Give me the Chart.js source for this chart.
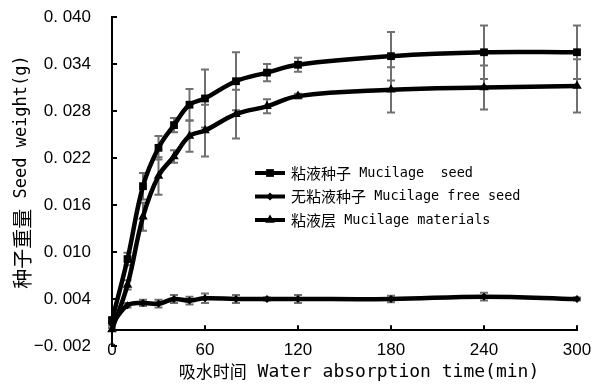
<!DOCTYPE html>
<html><head><meta charset="utf-8">
<script src="https://cdn.jsdelivr.net/npm/chart.js@4/dist/chart.umd.min.js"></script>
<style>html,body{margin:0;padding:0;background:#fff}#wrap{width:593px;height:387px}</style>
</head><body><div id="wrap"><canvas id="c" width="593" height="387"></canvas></div>
<script>
// ---- data ----
const times = [0, 10, 20, 30, 40, 50, 60, 80, 100, 120, 180, 240, 300];
const mucilageSeed = [0.0013, 0.0091, 0.0184, 0.0233, 0.0262, 0.0288, 0.0296, 0.0318, 0.0329, 0.0339, 0.0350, 0.0355, 0.0355];
const mucilageSeedErr = [0.0003, 0.0008, 0.0017, 0.0015, 0.0009, 0.0020, 0.0037, 0.0037, 0.0011, 0.0009, 0.0031, 0.0034, 0.0034];
const mucilageFree = [0.0008, 0.0032, 0.0035, 0.0034, 0.0040, 0.0038, 0.0041, 0.0040, 0.0040, 0.0040, 0.0040, 0.0043, 0.0040];
const mucilageFreeErr = [0.0002, 0.0003, 0.0004, 0.0005, 0.0005, 0.0005, 0.0006, 0.0005, 0.0002, 0.0005, 0.0004, 0.0005, 0.0002];
const mucilageMaterials = [0.0001, 0.0058, 0.0145, 0.0197, 0.0222, 0.0248, 0.0255, 0.0276, 0.0286, 0.0299, 0.0307, 0.0310, 0.0312];
const mucilageMaterialsErr = [0.0002, 0.0006, 0.0018, 0.0024, 0.0008, 0.0020, 0.0033, 0.0031, 0.0009, 0.0003, 0.0029, 0.0028, 0.0034];
const seriesLabels = ['粘液种子 Mucilage  seed', '无粘液种子 Mucilage free seed', '粘液层 Mucilage materials'];
const xTickValues = [0, 60, 120, 180, 240, 300];
const yTickValues = [-0.002, 0.004, 0.010, 0.016, 0.022, 0.028, 0.034, 0.040];
const xTitle = '吸水时间 Water absorption time(min)';
const yTitle = '种子重量 Seed weight(g)';

const errorArrays = [mucilageSeedErr, mucilageFreeErr, mucilageMaterialsErr];
const CJK = /[\u2E80-\u9FFF\uF900-\uFAFF\uFF00-\uFFEF\u3000-\u303F]/;

function runs(text) {
  const out = [];
  for (const ch of text) {
    const c = CJK.test(ch);
    if (out.length && out[out.length - 1].cjk === c) out[out.length - 1].t += ch;
    else out.push({ t: ch, cjk: c });
  }
  return out;
}
function drawMixed(ctx, text, x, y, cjkFont, latFont, align) {
  const rs = runs(text);
  let total = 0;
  rs.forEach(r => { ctx.font = r.cjk ? cjkFont : latFont; r.w = ctx.measureText(r.t).width; total += r.w; });
  let cx = align === 'center' ? x - total / 2 : x;
  ctx.textAlign = 'left';
  ctx.textBaseline = 'middle';
  rs.forEach(r => { ctx.font = r.cjk ? cjkFont : latFont; ctx.fillText(r.t, cx, y); cx += r.w; });
}
function fmtTick(v) {
  const s = Math.abs(v).toFixed(3).replace('.', '. ');
  return (v < 0 ? '\u2212' : '') + s;
}

const overlay = {
  id: 'overlay',
  beforeDatasetsDraw(chart) {
    const ctx = chart.ctx, xs = chart.scales.x, ys = chart.scales.y;
    ctx.save();
    ctx.strokeStyle = '#707070';
    ctx.lineWidth = 2;
    chart.data.datasets.forEach((ds, i) => {
      const errs = errorArrays[i];
      ds.data.forEach((p, j) => {
        const x = xs.getPixelForValue(p.x);
        const t = ys.getPixelForValue(p.y + errs[j]);
        const b = ys.getPixelForValue(p.y - errs[j]);
        ctx.beginPath();
        ctx.moveTo(x, t); ctx.lineTo(x, b);
        ctx.moveTo(x - 4, t); ctx.lineTo(x + 4, t);
        ctx.moveTo(x - 4, b); ctx.lineTo(x + 4, b);
        ctx.stroke();
      });
    });
    ctx.restore();
  },
  afterDraw(chart) {
    const ctx = chart.ctx, xs = chart.scales.x, ys = chart.scales.y;
    const area = chart.chartArea;
    const y0 = ys.getPixelForValue(0);
    ctx.save();
    ctx.strokeStyle = '#000';
    ctx.lineWidth = 2;
    // inner ticks
    ctx.beginPath();
    yTickValues.forEach(v => {
      const py = Math.round(ys.getPixelForValue(v));
      ctx.moveTo(area.left, py); ctx.lineTo(area.left + 5, py);
    });
    xTickValues.forEach(v => {
      if (v === 0) return;
      const px = Math.round(xs.getPixelForValue(v));
      ctx.moveTo(px, y0); ctx.lineTo(px, y0 - 5);
    });
    ctx.stroke();
    ctx.fillStyle = '#000';
    // axis titles
    drawMixed(ctx, xTitle, 359, 372, '17px "Noto Sans CJK SC"', '18px "DejaVu Sans Mono"', 'center');
    ctx.save();
    ctx.translate(22, 172);
    ctx.rotate(-Math.PI / 2);
    drawMixed(ctx, yTitle, 0, 0, '20px "Noto Sans CJK SC"', '17px "DejaVu Sans Mono"', 'center');
    ctx.restore();
    // legend
    chart.data.datasets.forEach((ds, i) => {
      const ly = 173 + i * 23.5;
      ctx.strokeStyle = '#000';
      ctx.lineWidth = 4;
      ctx.beginPath(); ctx.moveTo(255, ly); ctx.lineTo(285, ly); ctx.stroke();
      ctx.fillStyle = '#000';
      Chart.helpers.drawPoint(ctx, { pointStyle: ds.pointStyle, radius: ds.pointRadius, borderWidth: 0, rotation: 0 }, 270, ly);
      drawMixed(ctx, ds.label, 291, ly, '15px "Noto Sans CJK SC"', '13.5px "DejaVu Sans Mono"', 'left');
    });
    ctx.restore();
  }
};

function makeSet(label, values, style, radius) {
  return {
    label: label,
    data: times.map((t, i) => ({ x: t, y: values[i] })),
    borderColor: '#000', backgroundColor: '#000',
    pointBackgroundColor: '#000', pointBorderColor: '#000', pointBorderWidth: 0,
    borderWidth: 4.5, tension: 0.4, pointStyle: style, pointRadius: radius,
    clip: false
  };
}

const tickFont = { family: '"Liberation Sans", Arial, sans-serif', size: 17 };
new Chart(document.getElementById('c'), {
  type: 'line',
  data: {
    datasets: [
      makeSet(seriesLabels[0], mucilageSeed, 'rect', 5.5),
      makeSet(seriesLabels[1], mucilageFree, 'rectRot', 4),
      makeSet(seriesLabels[2], mucilageMaterials, 'triangle', 5.5)
    ]
  },
  options: {
    responsive: false, animation: false, devicePixelRatio: 1,
    layout: { padding: { top: 17, right: 16, bottom: 41, left: 0 } },
    plugins: { legend: { display: false }, tooltip: { enabled: false } },
    scales: {
      x: {
        type: 'linear', min: 0, max: 300, position: { y: 0 },
        afterBuildTicks: s => { s.ticks = xTickValues.map(v => ({ value: v })); },
        afterFit: s => { s.height = 0; s.paddingLeft = 0; s.paddingRight = 0; s.paddingTop = 0; s.paddingBottom = 0; },
        ticks: { font: tickFont, color: '#000', padding: 2, maxRotation: 0, autoSkip: false },
        grid: { display: false },
        border: { display: true, color: '#000', width: 2 }
      },
      y: {
        type: 'linear', min: -0.002, max: 0.040,
        afterBuildTicks: s => { s.ticks = yTickValues.map(v => ({ value: v })); },
        afterFit: s => { s.width = 112; s.paddingTop = 0; s.paddingBottom = 0; s.paddingLeft = 0; s.paddingRight = 0; },
        ticks: { font: tickFont, color: '#000', padding: 13, callback: v => fmtTick(v), autoSkip: false },
        grid: { display: false },
        border: { display: true, color: '#000', width: 2 }
      }
    }
  },
  plugins: [overlay]
});
</script>
</body></html>
